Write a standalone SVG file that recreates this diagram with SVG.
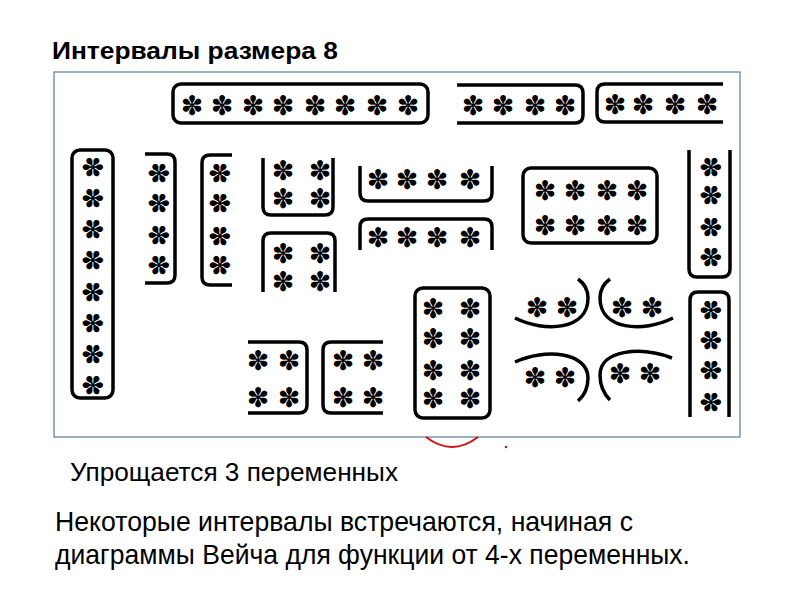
<svg xmlns="http://www.w3.org/2000/svg" width="800" height="600" viewBox="0 0 800 600">
<style>
.b{fill:none;stroke:#000;stroke-width:3.5}
.s{font-family:"DejaVu Sans",sans-serif;font-size:27px;text-anchor:middle;dominant-baseline:central}
.t{font-family:"Liberation Sans",Arial,sans-serif;fill:#000}
</style>
<rect width="800" height="600" fill="#fff"/>
<text class="t" x="52" y="59" font-size="24" font-weight="bold" textLength="286" lengthAdjust="spacingAndGlyphs">Интервалы размера 8</text>
<rect x="54" y="72" width="686" height="365" fill="none" stroke="#5a7a9a" stroke-width="1.2"/>
<g id="connectors"></g>
<g id="n1"><rect class="b" x="173" y="84" width="255" height="39" rx="8"/>
<text class="s" y="105"><tspan x="192">✽</tspan><tspan x="222">✽</tspan><tspan x="253">✽</tspan><tspan x="283">✽</tspan><tspan x="315">✽</tspan><tspan x="345">✽</tspan><tspan x="377">✽</tspan><tspan x="408">✽</tspan></text></g>
<g id="n2"><path class="b" d="M457,85 H575 Q583,85 583,93 V115 Q583,123 575,123 H457"/>
<text class="s" y="105"><tspan x="473">✽</tspan><tspan x="503">✽</tspan><tspan x="535">✽</tspan><tspan x="565">✽</tspan></text></g>
<g id="n3"><path class="b" d="M723,84 H605 Q597,84 597,92 V114 Q597,122 605,122 H723"/>
<text class="s" y="104"><tspan x="615">✽</tspan><tspan x="643">✽</tspan><tspan x="675">✽</tspan><tspan x="707">✽</tspan></text></g>
<g id="n4"><rect class="b" x="72" y="150" width="41" height="248" rx="8"/>
<text class="s" x="92" y="167" transform="rotate(90 92 167)">✽</text><text class="s" x="92" y="198" transform="rotate(90 92 198)">✽</text><text class="s" x="92" y="229" transform="rotate(90 92 229)">✽</text><text class="s" x="92" y="260" transform="rotate(90 92 260)">✽</text><text class="s" x="92" y="292" transform="rotate(90 92 292)">✽</text><text class="s" x="92" y="323" transform="rotate(90 92 323)">✽</text><text class="s" x="92" y="354" transform="rotate(90 92 354)">✽</text><text class="s" x="92" y="385" transform="rotate(90 92 385)">✽</text></g>
<g id="n5"><path class="b" d="M145,154 H167 Q175,154 175,162 V275 Q175,283 167,283 H145"/>
<text class="s" x="158" y="173" transform="rotate(90 158 173)">✽</text><text class="s" x="158" y="203" transform="rotate(90 158 203)">✽</text><text class="s" x="158" y="235" transform="rotate(90 158 235)">✽</text><text class="s" x="158" y="265" transform="rotate(90 158 265)">✽</text></g>
<g id="n6"><path class="b" d="M232,155 H210 Q202,155 202,163 V277 Q202,285 210,285 H232"/>
<text class="s" x="219" y="173" transform="rotate(90 219 173)">✽</text><text class="s" x="219" y="203" transform="rotate(90 219 203)">✽</text><text class="s" x="219" y="236" transform="rotate(90 219 236)">✽</text><text class="s" x="219" y="265" transform="rotate(90 219 265)">✽</text></g>
<g id="n7"><path class="b" d="M263,158 V207 Q263,215 271,215 H325 Q333,215 333,207 V158"/>
<text class="s" y="170"><tspan x="283">✽</tspan><tspan x="320">✽</tspan></text><text class="s" y="198"><tspan x="283">✽</tspan><tspan x="320">✽</tspan></text></g>
<g id="n8"><path class="b" d="M263,292 V241 Q263,233 271,233 H327 Q335,233 335,241 V292"/>
<text class="s" y="253"><tspan x="283">✽</tspan><tspan x="320">✽</tspan></text><text class="s" y="281"><tspan x="283">✽</tspan><tspan x="320">✽</tspan></text></g>
<g id="n9"><path class="b" d="M360,166 V193 Q360,201 368,201 H484 Q492,201 492,193 V166"/>
<text class="s" y="179"><tspan x="378">✽</tspan><tspan x="407">✽</tspan><tspan x="437">✽</tspan><tspan x="470">✽</tspan></text></g>
<g id="n10"><path class="b" d="M360,250 V227 Q360,219 368,219 H484 Q492,219 492,227 V250"/>
<text class="s" y="237"><tspan x="378">✽</tspan><tspan x="407">✽</tspan><tspan x="437">✽</tspan><tspan x="470">✽</tspan></text></g>
<g id="n11"><rect class="b" x="523" y="168" width="134" height="75" rx="8"/>
<text class="s" y="190"><tspan x="545">✽</tspan><tspan x="575">✽</tspan><tspan x="607">✽</tspan><tspan x="637">✽</tspan></text><text class="s" y="225"><tspan x="545">✽</tspan><tspan x="575">✽</tspan><tspan x="607">✽</tspan><tspan x="637">✽</tspan></text></g>
<g id="n12"><path class="b" d="M689,150 V269 Q689,277 697,277 H722 Q730,277 730,269 V150"/>
<text class="s" x="710" y="167" transform="rotate(90 710 167)">✽</text><text class="s" x="710" y="195" transform="rotate(90 710 195)">✽</text><text class="s" x="710" y="227" transform="rotate(90 710 227)">✽</text><text class="s" x="710" y="257" transform="rotate(90 710 257)">✽</text></g>
<g id="n13"><path class="b" d="M248,342 H299 Q307,342 307,350 V405 Q307,413 299,413 H248"/>
<text class="s" y="360"><tspan x="258">✽</tspan><tspan x="289">✽</tspan></text><text class="s" y="397"><tspan x="258">✽</tspan><tspan x="289">✽</tspan></text></g>
<g id="n14"><path class="b" d="M383,342 H331 Q323,342 323,350 V405 Q323,413 331,413 H383"/>
<text class="s" y="360"><tspan x="343">✽</tspan><tspan x="373">✽</tspan></text><text class="s" y="397"><tspan x="343">✽</tspan><tspan x="373">✽</tspan></text></g>
<g id="n15"><rect class="b" x="415" y="288" width="75" height="130" rx="8"/>
<text class="s" y="308"><tspan x="433">✽</tspan><tspan x="470">✽</tspan></text><text class="s" y="338"><tspan x="433">✽</tspan><tspan x="470">✽</tspan></text><text class="s" y="370"><tspan x="433">✽</tspan><tspan x="470">✽</tspan></text><text class="s" y="398"><tspan x="433">✽</tspan><tspan x="470">✽</tspan></text></g>
<g id="n16"><path class="b" d="M515,318 C545,333 588,330 588,298 C588,290 585,284 578,279"/>
<text class="s" y="307"><tspan x="537">✽</tspan><tspan x="567">✽</tspan></text></g>
<g id="n17"><path class="b" d="M673,318 C643,333 600,330 600,298 C600,290 603,284 610,279"/>
<text class="s" y="307"><tspan x="622">✽</tspan><tspan x="652">✽</tspan></text></g>
<g id="n18"><path class="b" d="M515,362 C545,348 588,352 588,378 C588,388 585,395 578,401"/>
<text class="s" y="377"><tspan x="535">✽</tspan><tspan x="565">✽</tspan></text></g>
<g id="n19"><path class="b" d="M672,358 C640,346 600,350 600,375 C600,385 603,393 610,400"/>
<text class="s" y="373"><tspan x="620">✽</tspan><tspan x="650">✽</tspan></text></g>
<g id="n20"><path class="b" d="M690,417 V300 Q690,292 698,292 H721 Q729,292 729,300 V417"/>
<text class="s" x="710" y="310" transform="rotate(90 710 310)">✽</text><text class="s" x="710" y="340" transform="rotate(90 710 340)">✽</text><text class="s" x="710" y="370" transform="rotate(90 710 370)">✽</text><text class="s" x="710" y="402" transform="rotate(90 710 402)">✽</text></g>
<path d="M426,437 Q452,457 478,437" fill="none" stroke="#d01010" stroke-width="2"/>
<circle cx="506" cy="447" r="1.3" fill="#b02040"/>
<text class="t" x="70" y="481" font-size="26" textLength="328" lengthAdjust="spacingAndGlyphs">Упрощается 3 переменных</text>
<text class="t" x="55" y="531" font-size="28" textLength="578" lengthAdjust="spacingAndGlyphs">Некоторые интервалы встречаются, начиная с</text>
<text class="t" x="55" y="564" font-size="28" textLength="635" lengthAdjust="spacingAndGlyphs">диаграммы Вейча для функции от 4-х переменных.</text>
</svg>
